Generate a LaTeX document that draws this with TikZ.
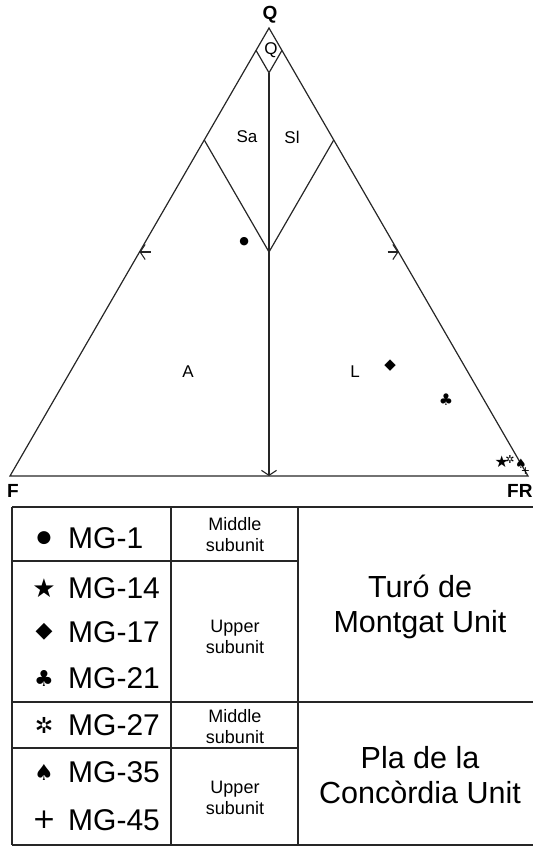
\documentclass[tikz,border=0pt]{standalone}
\usepackage{fontspec}
\setmainfont{Liberation Sans}
\newfontfamily\symfont{DejaVu Sans}
\usepackage{tikz}
\usetikzlibrary{arrows.meta, calc}

\tikzset{
  tri/.style={line width=1.2pt, draw=black!85},
  grid/.style={line width=1.5pt, draw=black!85},
  barb/.style={-{Straight Barb[length=5pt,width=15pt,line width=1.1pt]}},
  lab/.style={font=\fontsize{17}{20}\selectfont, inner sep=0pt},
  apex/.style={font=\fontsize{19}{22}\selectfont\bfseries, inner sep=0pt},
  mg/.style={font=\fontsize{30}{35}\selectfont, inner sep=0pt, anchor=west},
  sub/.style={font=\fontsize{18}{21}\selectfont, align=center, inner sep=0pt},
  unit/.style={font=\fontsize{30.5}{35}\selectfont, align=center, inner sep=0pt},
  smp/.style={font=\symfont\fontsize{#1}{#1}\selectfont, inner sep=0pt},
}

\begin{document}
\begin{tikzpicture}[x=1pt,y=-1pt]
\useasboundingbox (0,0) rectangle (533,848);

% QFR triangle
\coordinate (F) at (10,476);
\coordinate (FR) at (528,476);
\coordinate (Q) at (269,28);
\draw[tri] (F) -- (FR) -- (Q) -- cycle;

% field boundaries
\coordinate (q95l) at (barycentric cs:Q=0.95,F=0.05);
\coordinate (q95r) at (barycentric cs:Q=0.95,FR=0.05);
\coordinate (q90) at (barycentric cs:Q=0.90,F=0.05,FR=0.05);
\coordinate (q75l) at (barycentric cs:Q=0.75,F=0.25);
\coordinate (q75r) at (barycentric cs:Q=0.75,FR=0.25);
\coordinate (q50) at (barycentric cs:Q=0.50,F=0.25,FR=0.25);
\coordinate (base) at ($(F)!0.5!(FR)$);
\coordinate (midl) at (barycentric cs:Q=0.5,F=0.5);
\coordinate (midr) at (barycentric cs:Q=0.5,FR=0.5);

\draw[tri] (q95l) -- (q90) -- (q95r);
\draw[tri] (q75l) -- (q50) -- (q75r);
\draw[tri,barb] (q90) -- (base);
\draw[tri,barb] ([xshift=11pt]midl) -- (midl);
\draw[tri,barb] ([xshift=-11pt]midr) -- (midr);

\node[apex] at (270,15) (lQ) {Q};
\node[apex,anchor=west] at (7,491) (lF) {F};
\node[apex,anchor=west] at (507,491) (lFR) {FR};
\node[lab] at (271,50) (fQ) {Q};
\node[lab] at (247,137) (fSa) {Sa};
\node[lab] at (292,137) (fSl) {Sl};
\node[lab] at (188,372) (fA) {A};
\node[lab] at (355,372) (fL) {L};

% samples
\node[smp=11] at (barycentric cs:Q=0.522,F=0.287,FR=0.191) (p1) {●};
\node[smp=15] at (barycentric cs:Q=0.246,F=0.143,FR=0.611) (p17) {◆};
\node[smp=16] at (barycentric cs:Q=0.170,F=0.073,FR=0.757) (p21) {♣};
\node[smp=16] at (barycentric cs:Q=0.031,F=0.035,FR=0.934) (p14) {★};
\node[smp=11] at (barycentric cs:Q=0.036,F=0.017,FR=0.947) (p27) {✲};
\node[smp=13] at (barycentric cs:Q=0.027,FR=0.973) (p35) {♠};
\node[smp=11] at (barycentric cs:Q=0.010,FR=0.990) (p45) {+};

% table
\draw[grid] (12,507) -- (533,507);
\draw[grid] (12,561) -- (298,561);
\draw[grid] (12,702) -- (533,702);
\draw[grid] (12,748) -- (298,748);
\draw[grid] (12,845) -- (533,845);
\draw[grid] (12,507) -- (12,845);
\draw[grid] (171,507) -- (171,845);
\draw[grid] (298,507) -- (298,845);

\node[smp=17] at (44,538) (s1) {●};
\node[smp=26] at (44,588) (s14) {★};
\node[smp=22] at (44,632) (s17) {◆};
\node[smp=22] at (44,678) (s21) {♣};
\node[smp=22] at (44,725) (s27) {✲};
\node[smp=22] at (44,772) (s35) {♠};
\node[smp=28] at (44,820) (s45) {+};

\node[mg] at (68,538) (t1) {MG-1};
\node[mg] at (68,588) (t14) {MG-14};
\node[mg] at (68,632) (t17) {MG-17};
\node[mg] at (68,678) (t21) {MG-21};
\node[mg] at (68,725) (t27) {MG-27};
\node[mg] at (68,772) (t35) {MG-35};
\node[mg] at (68,820) (t45) {MG-45};

\node[sub] at (235,535) (mid1) {Middle\\subunit};
\node[sub] at (235,637) (up1) {Upper\\subunit};
\node[sub] at (235,727) (mid2) {Middle\\subunit};
\node[sub] at (235,798) (up2) {Upper\\subunit};

\node[unit] at (420,607) (turo) {Turó de\\Montgat Unit};
\node[unit] at (420,775) (pla) {Pla de la\\Concòrdia Unit};

\end{tikzpicture}
\end{document}
